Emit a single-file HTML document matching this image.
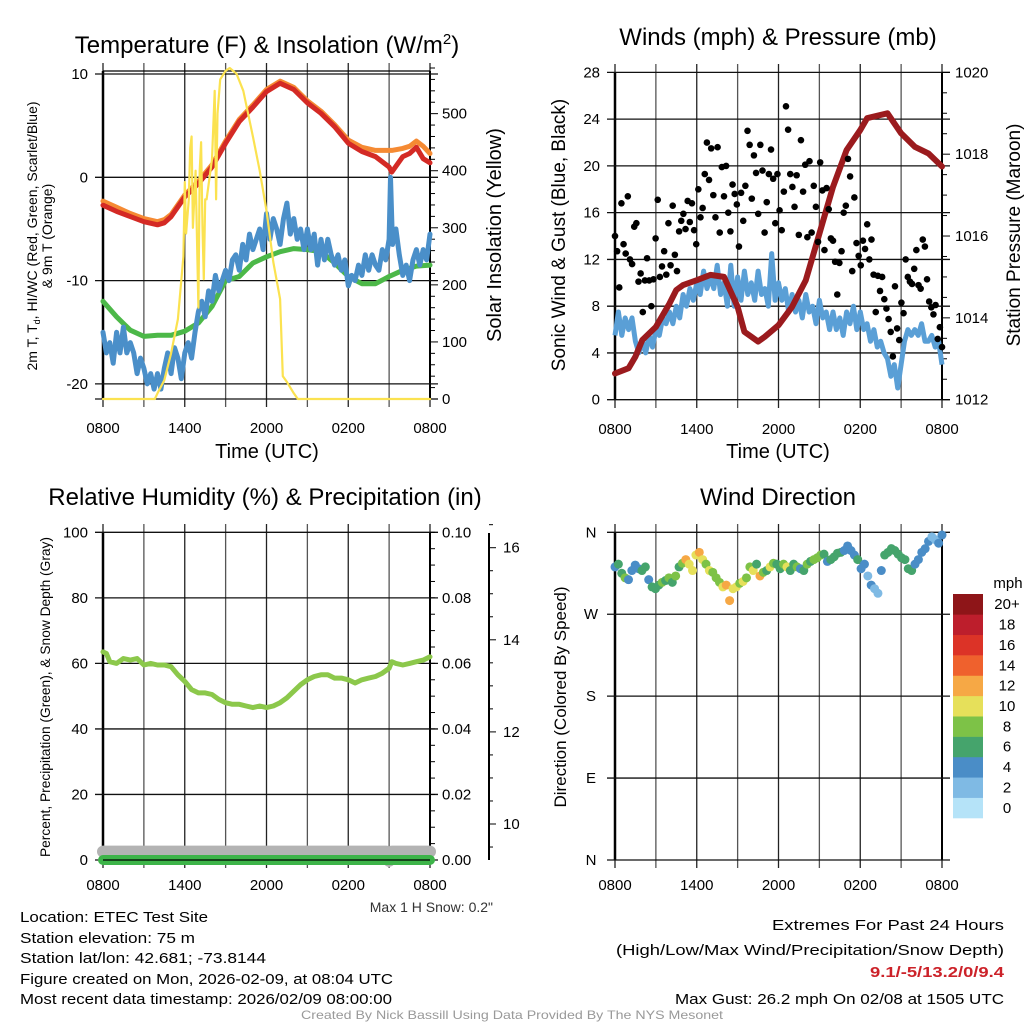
<!DOCTYPE html>
<html><head><meta charset="utf-8"><style>
html,body{margin:0;padding:0;background:#fff;}
svg{display:block;font-family:"Liberation Sans",Arial,sans-serif;}
</style></head><body>
<svg id="root" width="1024" height="1024" viewBox="0 0 1024 1024" xmlns="http://www.w3.org/2000/svg">
<rect x="0" y="0" width="1024" height="1024" fill="#fff"/>
<g id="p1"></g>
<g id="p2"></g>
<g id="p3"></g>
<g id="p4"></g>
<g font-size="24" fill="#000" text-anchor="middle">
<text x="267" y="53">Temperature (F) &amp; Insolation (W/m<tspan dy="-9" font-size="15">2</tspan><tspan dy="9">)</tspan></text>
<text x="778" y="45">Winds (mph) &amp; Pressure (mb)</text>
<text x="265" y="505">Relative Humidity (%) &amp; Precipitation (in)</text>
<text x="778" y="505">Wind Direction</text>
</g>
<g font-size="20" text-anchor="middle">
<text x="267" y="458">Time (UTC)</text>
<text x="778" y="458">Time (UTC)</text>
<text transform="translate(501,235) rotate(-90)">Solar Insolation (Yellow)</text>
<text font-size="19" transform="translate(1020,235) rotate(-90)">Station Pressure (Maroon)</text>
<text font-size="19" transform="translate(565,235) rotate(-90)">Sonic Wind &amp; Gust (Blue, Black)</text>
<text font-size="17" transform="translate(566,697) rotate(-90)">Direction (Colored By Speed)</text>
<text font-size="14" transform="translate(50,697) rotate(-90)" textLength="320" lengthAdjust="spacingAndGlyphs">Percent, Precipitation (Green), &amp; Snow Depth (Gray)</text>
<text font-size="14" transform="translate(37,236) rotate(-90)">2m T, T<tspan font-size="9" dy="3">d</tspan><tspan dy="-3">, HI/WC (Red, Green, Scarlet/Blue)</tspan></text>
<text font-size="14" transform="translate(52,236) rotate(-90)">&amp; 9m T (Orange)</text>
</g>
<text x="493" y="912" font-size="14" fill="#333" text-anchor="end">Max 1 H Snow: 0.2"</text>
<g font-size="15" fill="#000">
<text x="20" y="922" textLength="188" lengthAdjust="spacingAndGlyphs">Location: ETEC Test Site</text>
<text x="20" y="943" textLength="175" lengthAdjust="spacingAndGlyphs">Station elevation: 75 m</text>
<text x="20" y="963" textLength="246" lengthAdjust="spacingAndGlyphs">Station lat/lon: 42.681; -73.8144</text>
<text x="20" y="984" textLength="373" lengthAdjust="spacingAndGlyphs">Figure created on Mon, 2026-02-09, at 08:04 UTC</text>
<text x="20" y="1004" textLength="372" lengthAdjust="spacingAndGlyphs">Most recent data timestamp: 2026/02/09 08:00:00</text>
<text x="1004" y="930" text-anchor="end" textLength="232" lengthAdjust="spacingAndGlyphs">Extremes For Past 24 Hours</text>
<text x="1004" y="955" text-anchor="end" textLength="388" lengthAdjust="spacingAndGlyphs">(High/Low/Max Wind/Precipitation/Snow Depth)</text>
<text x="1004" y="977" text-anchor="end" fill="#cc2229" font-weight="bold" textLength="134" lengthAdjust="spacingAndGlyphs">9.1/-5/13.2/0/9.4</text>
<text x="1004" y="1004" text-anchor="end" textLength="329" lengthAdjust="spacingAndGlyphs">Max Gust: 26.2 mph On 02/08 at 1505 UTC</text>
</g>
<text x="512" y="1019" font-size="12" fill="#999" text-anchor="middle" textLength="422" lengthAdjust="spacingAndGlyphs">Created By Nick Bassill Using Data Provided By The NYS Mesonet</text>
</svg>
<script>
// ---------- data ----------
const timeTicks = [0,3,6,9,12,15,18,21,24];
const timeLabels = ["0800","1400","2000","0200","0800"];
const tHours = [0,1,2,3,4,4.5,5,6,7,8,9,10,11,12,13,14,15,16,17,18,19,20,21,21.2,22,22.5,23,23.5,24];
const temp2m = [-2.7,-3.3,-3.8,-4.3,-4.6,-4.4,-3.8,-1.9,-0.6,1.0,3.3,5.4,6.8,8.3,9.1,8.5,7.2,6.2,4.9,3.3,2.5,2.0,1.0,0.5,2.0,2.3,2.9,1.8,1.4];
const temp9m = [-2.3,-2.9,-3.5,-4.0,-4.3,-4.1,-3.6,-1.7,-0.4,1.2,3.5,5.6,7.0,8.5,9.3,8.7,7.4,6.4,5.1,3.6,2.9,2.6,2.6,2.6,2.8,3.0,3.5,3.0,2.3];
const dHours = [0,1,2,3,4,5,6,7,8,9,10,11,12,13,14,15,16,17,18,19,20,21,22,23,24];
const dewpoint = [-12.0,-13.5,-14.8,-15.4,-15.3,-15.3,-14.9,-14.1,-12.5,-10.0,-9.6,-8.3,-7.7,-7.2,-6.9,-7.0,-7.2,-8.3,-9.6,-10.3,-10.3,-9.6,-9.0,-8.6,-8.5];
const wcHours = [0,0.25,0.5,0.75,1,1.25,1.5,1.75,2,2.25,2.5,2.75,3,3.25,3.5,3.75,4,4.25,4.5,4.75,5,5.25,5.5,5.75,6,6.25,6.5,6.75,7,7.25,7.5,7.75,8,8.25,8.5,8.75,9,9.25,9.5,9.75,10,10.25,10.5,10.75,11,11.25,11.5,11.75,12,12.25,12.5,12.75,13,13.25,13.5,13.75,14,14.25,14.5,14.75,15,15.25,15.5,15.75,16,16.25,16.5,16.75,17,17.25,17.5,17.75,18,18.25,18.5,18.75,19,19.25,19.5,19.75,20,20.25,20.5,20.75,21,21.1,21.25,21.5,21.75,22,22.25,22.5,22.75,23,23.25,23.5,23.75,24];
const windChill = [-15,-17,-16,-18,-15,-17,-14.5,-17,-16,-17,-19,-17.5,-18.5,-20,-19,-20.5,-19,-20.5,-18.5,-17,-19,-16.5,-17.5,-19.5,-17,-16,-17.5,-15,-13,-12,-13.5,-11,-12,-9.5,-11,-10,-9,-10,-8,-7.5,-9,-6.5,-8,-5.5,-7,-6,-5,-7,-3.5,-6,-4,-5,-6.5,-4,-2.5,-5.5,-4,-6,-5,-7,-5,-7,-5.5,-8.5,-6,-8,-6,-7.5,-8.5,-7.5,-9,-8,-10.5,-9.5,-10,-8.5,-9.5,-7.5,-9,-7.5,-8.5,-9,-7,-8,-6,0,-6.5,-5,-7.5,-9.5,-8.5,-10,-8,-7,-8.5,-7,-8,-5.5];
const solHours = [0,3.8,4,4.5,5,5.5,5.9,6.0,6.1,6.3,6.4,6.5,6.6,6.8,7.0,7.1,7.2,7.3,7.4,7.5,7.6,8.0,8.2,8.3,8.4,8.6,9.0,9.3,9.8,10.3,11,11.5,12,12.5,13,13.2,13.5,14,14.3,24];
const solar = [0,0,10,33,80,140,250,380,290,350,440,460,300,400,160,400,450,300,210,350,350,420,540,350,500,560,575,580,570,540,460,400,330,240,175,40,30,10,0,0];
const presHours = [0,1,1.5,2,3,4,4.5,5,6,7,8,9,9.5,10,10.5,11,12,13,14,15,16,17,18,18.5,19,20,21,22,23,24];
const pressure = [1012.64,1012.77,1013.05,1013.46,1013.78,1014.35,1014.68,1014.8,1014.92,1015.05,1015.0,1014.27,1013.66,1013.54,1013.42,1013.54,1013.82,1014.27,1014.92,1016.06,1017.2,1018.1,1018.59,1018.88,1018.92,1019.0,1018.51,1018.18,1018.02,1017.7];
const windSpeed = [5.5,7.5,5.5,7,6,7,5,4,5,4,5.5,4.5,6,5.5,7,6.5,7.5,6.5,8,7,9,8,9.5,8.5,10,9,11,9.5,10.5,9.5,11.5,9,10,8,11.5,8,10.5,8.5,11,9,10,8.5,11,9,9.5,8,12.5,8.5,10,8.5,9.5,7.5,9,7.5,8.5,7,9,7.5,8,6.5,8.5,7,7.5,6,7.5,6,7,5.5,7.5,6.5,8,6,7.5,6,6.5,5,6,4.5,5,4,3.5,2,3,1,3,5,6,5.5,6,5.5,6.5,5,5,5.5,4.5,5,3];
const gusts = [14,12.7,9.6,16.8,13.3,12.5,17.4,12,11.6,14.8,15.1,10.1,10.8,7.5,10.2,12.1,10.2,8,10.3,13.8,17.1,10.5,11.4,12.7,10.7,15.1,11.5,16.6,12.4,11,14.4,15.3,15.9,14.6,17,15.2,16.8,14.5,13.3,18,15.6,16.4,19.3,22,18.8,21.5,17.5,15.6,21.6,14.3,19.9,17.4,20,16,14.4,18.4,17.6,16.7,13.1,17.7,15.3,18.3,23,21.8,17.2,20.9,19.4,15.9,21.8,19.6,14.3,16.9,19.3,21.4,18.9,15.1,19.3,16.2,14.5,17.8,25.1,23.1,19.3,18.2,16.5,19.2,14.1,22.2,17.8,20.1,13.9,20.4,14.3,18.3,16.5,13.5,20.3,17.9,12.8,18.1,16.3,13.8,13.6,11.8,9,11.7,12.7,16,16.6,20.6,19.1,11,17.3,13.4,12.3,11.5,13.6,12.9,15,12,13.7,10.7,7.5,10.6,9.3,10.5,8.6,7.8,6.9,5.8,3.7,9.7,6.1,5.1,8.3,7.4,12,10.5,10.1,9.9,11.2,12.8,9.8,9.5,13.7,13.1,10.3,8.4,7.9,7.3,8.1,5.2,6.2,4.5];
const rhHours = [0,0.25,0.5,1,1.5,2,2.5,3,3.5,4,4.5,5,5.5,6,6.5,7,7.5,8,8.5,9,9.5,10,10.5,11,11.5,12,12.5,13,13.5,14,14.5,15,15.5,16,16.5,17,17.5,18,18.5,19,19.5,20,20.5,21,21.2,21.5,22,22.5,23,23.5,24];
const humidity = [63.5,63,60.5,60,61.5,61,61.5,59.5,60,59.5,59.5,59,56.5,54.5,52,51,51,50.5,49,48,47.5,47.5,47,46.5,47,46.5,47,48,49.5,51.5,53.5,55,56,56.5,56.5,55.5,55.5,55,54,55,55.5,56,57,58.5,60.5,60,59.5,60,60.5,61,62];
const precipHours = [0,24];
const precip = [0,0];
const snowHours = [0,20.8,21.0,21.2,24];
const snowDepth = [9.4,9.4,9.2,9.4,9.4];
const direction = [322,325,315,310,308,318,324,320,318,322,308,300,298,302,305,307,310,305,312,322,326,330,325,318,335,338,330,325,318,316,310,305,300,302,285,298,300,304,306,310,322,318,325,312,316,318,322,326,325,320,325,322,318,325,322,320,318,325,328,330,332,335,336,328,330,333,337,338,340,345,340,335,330,320,325,312,302,298,293,318,335,338,342,340,336,332,330,320,318,325,330,338,342,350,355,352,348,357];
const dirSpeed = [4,6,6,8,4,4,4,5,6,6,4,6,6,7,8,7,9,6,8,7,8,12,10,10,11,12,10,8,10,8,8,9,10,12,13,10,10,9,10,9,8,10,7,13,8,6,10,8,7,7,8,10,6,7,8,5,7,8,6,9,8,8,7,5,6,6,7,6,5,4,4,4,6,4,5,3,4,2,2,5,6,6,7,6,7,6,6,7,6,4,4,4,4,4,3,3,4,4];
const cbarLabels = ["0","2","4","6","8","10","12","14","16","18","20+"];
const cbarColors = ["#b5e3f8","#7fbae4","#4a8dc7","#45a46c","#7dc247","#e6e05a","#f6a845","#ef612d","#dc3327","#bd1e2c","#8e1518"];
const tempTicks = [10,0,-10,-20];
const solarTicks = [0,100,200,300,400,500];
const windTicks = [0,4,8,12,16,20,24,28];
const presTicks = [1012,1014,1016,1018,1020];
const rhTicks = [0,20,40,60,80,100];
const precipTicks = ["0.00","0.02","0.04","0.06","0.08","0.10"];
const snowTicks = [10,12,14,16];
const dirTicks = [360,270,180,90,0];
const dirLabels = ["N","W","S","E","N"];

// ---------- helpers ----------
const NS = "http://www.w3.org/2000/svg";
function el(parent, tag, attrs){ const e=document.createElementNS(NS,tag); for(const k in attrs) e.setAttribute(k,attrs[k]); parent.appendChild(e); return e; }
function pathFrom(xs, ys, fx, fy){ return xs.map((t,i)=>(i?"L":"M")+fx(t).toFixed(1)+","+fy(ys[i]).toFixed(1)).join(""); }
function txt(parent, x, y, s, anchor, size){ const e=el(parent,"text",{x:x,y:y,"text-anchor":anchor||"middle","font-size":size||15}); e.textContent=s; return e; }

function frame(g, X0, X1, Y0, Y1, name, labOff){
  const xf = t => X0 + t/24*(X1-X0);
  timeTicks.forEach((t,i)=>{
    const l = el(g,"line",{x1:xf(t),x2:xf(t),y1:Y0-8,y2:Y1+8,stroke:(i%2?"#555":"#222"),"stroke-width":1.3});
    
    
  });
  timeLabels.forEach((s,i)=>{
    const e = txt(g, xf(i*6), Y1+labOff, s, "middle", 15);
    
    
  });
  const a = el(g,"line",{x1:X0,x2:X0,y1:Y0,y2:Y1,stroke:"#000","stroke-width":2.5});
  
  
  const b = el(g,"line",{x1:X1,x2:X1,y1:Y0,y2:Y1,stroke:"#000","stroke-width":2});
  
  
  return xf;
}
function hgrid(g, X0, X1, y, name){
  const l = el(g,"line",{x1:X0-8,x2:X1+8,y1:y,y2:y,stroke:"#111","stroke-width":1.3});
  
  
}

// ---------- panel 1 ----------
(function(){
  const g = document.getElementById("p1");
  const X0=103, X1=430, Y0=71, Y1=399;
  const yT = v => 177.3 - v*10.33;
  const yS = w => 399 - w*0.5707;
  const xf = frame(g,X0,X1,Y0,Y1,"temperature",34);
  hgrid(g,X0,X1,Y1,"temperature-bottom-line");
  const tl = el(g,"line",{x1:X0,x2:X1,y1:71,y2:71,stroke:"#000","stroke-width":1.3});
  
  
  tempTicks.forEach(v=>{
    hgrid(g,X0,X1,yT(v),"temperature-hgrid");
    const e = txt(g, X0-15, yT(v)+5, String(v), "end", 15);
    
    
  });
  for(let w=0; w<=580; w+=20){
    const l = el(g,"line",{x1:X1,x2:X1+(w%100?5:8),y1:yS(w),y2:yS(w),stroke:"#000","stroke-width":1});
    
    
  }
  solarTicks.forEach(w=>{
    const e = txt(g, X1+12, yS(w)+5, String(w), "start", 15);
    
    
  });
  const series = [
    [dHours,dewpoint,yT,"#4cb848",5,"dewpoint-line"],
    [wcHours,windChill,yT,"#4a8fc9",5,"windchill-line"],
    [tHours,temp9m,yT,"#f58a33",5,"temp-9m-line"],
    [tHours,temp2m,yT,"#d42a25",5,"temp-2m-line"],
    [solHours,solar,yS,"#fbe250",2.2,"solar-line"]
  ];
  series.forEach(s=>{
    const p = el(g,"path",{d:pathFrom(s[0],s[1],xf,s[2]),fill:"none",stroke:s[3],"stroke-width":s[4],"stroke-linejoin":"round","stroke-linecap":"round"});
    
    
  });
})();

// ---------- panel 2 ----------
(function(){
  const g = document.getElementById("p2");
  const X0=615, X1=942, Y0=72, Y1=400;
  const yW = v => 399.7 - v*11.69;
  const yP = p => 399.7 - (p-1012)*40.92;
  const xf = frame(g,X0,X1,Y0,Y1,"winds",34);
  windTicks.forEach(v=>{
    hgrid(g,X0,X1,yW(v),"winds-hgrid");
    const e = txt(g, X0-15, yW(v)+5, String(v), "end", 15);
    
    
  });
  for(let p=1012; p<=1020.01; p+=0.5){
    const l = el(g,"line",{x1:X1,x2:X1+(Math.abs(p%2)<0.01?8:5),y1:yP(p),y2:yP(p),stroke:"#000","stroke-width":1});
    
    
  }
  presTicks.forEach(p=>{
    const e = txt(g, X1+13, yP(p)+5, String(p), "start", 15);
    
    
  });
  const sx = windSpeed.map((v,i)=>i*24/(windSpeed.length-1));
  const w = el(g,"path",{d:pathFrom(sx,windSpeed,xf,yW),fill:"none",stroke:"#5a9fd6","stroke-width":5,"stroke-linejoin":"round"});
  
  
  const p = el(g,"path",{d:pathFrom(presHours,pressure,xf,yP),fill:"none",stroke:"#9b1b1e","stroke-width":6,"stroke-linejoin":"round","stroke-linecap":"round"});
  
  
  gusts.forEach((v,i)=>{
    const t = i*24/(gusts.length-1);
    const c = el(g,"circle",{cx:xf(t),cy:yW(v),r:3.3,fill:"#000"});
    
    
  });
})();

// ---------- panel 3 ----------
(function(){
  const g = document.getElementById("p3");
  const X0=103, X1=430, Y0=532, Y1=860;
  const yR = v => 860 - v*3.277;
  const yPr = v => 860 - v*3277;
  const ySn = v => 824 - (v-10)*46.05;
  const xf = frame(g,X0,X1,Y0,Y1,"humidity",30);
  rhTicks.forEach(v=>{
    hgrid(g,X0,X1,yR(v),"humidity-hgrid");
    const e = txt(g, X0-15, yR(v)+5, String(v), "end", 15);
    
    
  });
  precipTicks.forEach(s=>{
    const e = txt(g, X1+12, yPr(parseFloat(s))+5, s, "start", 15);
    
    
  });
  for(let v=0; v<=0.1001; v+=0.005){
    const l = el(g,"line",{x1:X1,x2:X1+5,y1:yPr(v),y2:yPr(v),stroke:"#000","stroke-width":1});
    
    
  }
  const ax = el(g,"line",{x1:489,x2:489,y1:533,y2:860,stroke:"#000","stroke-width":2});
  
  
  for(let v=9.5; v<=16.5; v+=0.5){
    const l = el(g,"line",{x1:489,x2:489+(v%2===0?7:4),y1:ySn(v),y2:ySn(v),stroke:"#000","stroke-width":1});
    
    
  }
  snowTicks.forEach(v=>{
    const e = txt(g, 503, ySn(v)+5, String(v), "start", 15);
    
    
  });
  const s = el(g,"path",{d:pathFrom(snowHours,snowDepth,xf,ySn),fill:"none",stroke:"#b3b3b3","stroke-width":12,"stroke-linecap":"round","stroke-linejoin":"round"});
  
  
  const pr = el(g,"path",{d:pathFrom(precipHours,precip,xf,yPr),fill:"none",stroke:"#3db449","stroke-width":10,"stroke-linecap":"round"});
  
  
  const bl = el(g,"line",{x1:X0,x2:X1,y1:860,y2:860,stroke:"#000","stroke-width":1.3});
  
  
  const rh = el(g,"path",{d:pathFrom(rhHours,humidity,xf,yR),fill:"none",stroke:"#8cc84b","stroke-width":5,"stroke-linejoin":"round","stroke-linecap":"round"});
  
  
})();

// ---------- panel 4 ----------
(function(){
  const g = document.getElementById("p4");
  const X0=615, X1=942, Y0=532, Y1=860;
  const yD = d => 532.3 + (360-d)*0.9103;
  const xf = frame(g,X0,X1,Y0,Y1,"direction",30);
  dirTicks.forEach((d,i)=>{
    hgrid(g,X0,X1,yD(d),"direction-hgrid");
    const e = txt(g, 591, yD(d)+5, dirLabels[i], "middle", 15);
    
    
  });
  direction.forEach((d,i)=>{
    const t = i*24/(direction.length-1);
    const ci = Math.min(10, Math.floor(dirSpeed[i]/2));
    const c = el(g,"circle",{cx:xf(t),cy:yD(d),r:4.5,fill:cbarColors[ci]});
    
    
  });
  const cbTop=594, cbH=224/11;
  cbarColors.forEach((col,i)=>{
    const r = el(g,"rect",{x:953,y:cbTop+(10-i)*cbH,width:30,height:cbH+0.3,fill:col});
    
    
    const e = txt(g, 1007, cbTop+(10-i)*cbH+cbH/2+5, cbarLabels[i], "middle", 15);
    
    
  });
  const m = txt(g, 1008, 588, "mph", "middle", 15);
  
  
})();
</script>
</body></html>
